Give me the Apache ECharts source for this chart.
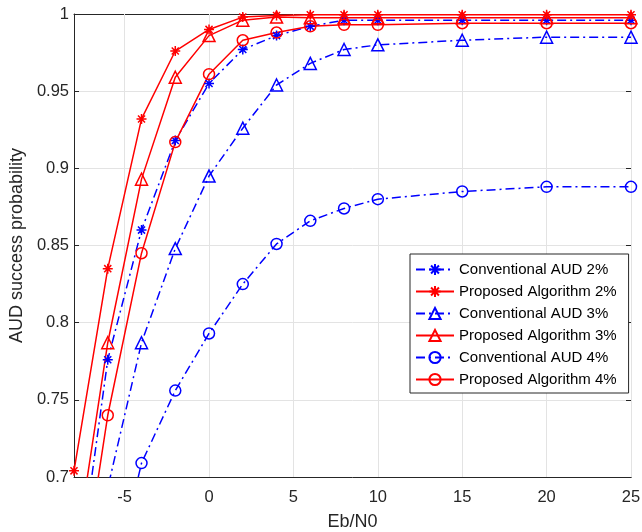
<!DOCTYPE html>
<html>
<head>
<meta charset="utf-8">
<script src="https://cdn.jsdelivr.net/npm/echarts@6/dist/echarts.min.js"></script>
<style>
  html, body { margin: 0; padding: 0; background: #fff; }
  #chart { width: 642px; height: 532px; }
</style>
</head>
<body>
<div id="chart"></div>
<script>
// Eb/N0 sample points (dB)
const ebn0 = [-8, -6, -4, -2, 0, 2, 4, 6, 8, 10, 15, 20, 25];

// AUD success probability per scheme and activity level
const conventional2 = [0.616, 0.776, 0.860, 0.918, 0.955, 0.977, 0.986, 0.992, 0.996, 0.996, 0.996, 0.996, 0.996];
const proposed2     = [0.704, 0.835, 0.932, 0.976, 0.990, 0.998, 0.999, 0.9995, 0.9995, 0.9995, 0.9995, 0.9995, 0.9995];
const conventional3 = [0.600, 0.693, 0.787, 0.848, 0.895, 0.926, 0.954, 0.968, 0.977, 0.980, 0.983, 0.985, 0.985];
const proposed3     = [0.643, 0.787, 0.893, 0.959, 0.986, 0.996, 0.998, 0.9975, 0.9975, 0.9975, 0.9975, 0.9975, 0.9975];
const conventional4 = [0.520, 0.615, 0.709, 0.756, 0.793, 0.825, 0.851, 0.866, 0.874, 0.880, 0.885, 0.888, 0.888];
const proposed4     = [0.597, 0.740, 0.845, 0.917, 0.961, 0.983, 0.988, 0.992, 0.993, 0.993, 0.994, 0.994, 0.994];

const seriesNames = [
  'Conventional AUD 2%', 'Proposed Algorithm 2%',
  'Conventional AUD 3%', 'Proposed Algorithm 3%',
  'Conventional AUD 4%', 'Proposed Algorithm 4%'
];

// Axis tick positions
const xTicks = [-5, 0, 5, 10, 15, 20, 25];
const xMin = -8, xMax = 25;
const yMin = 0.7, yMax = 1, yStep = 0.05;

const BLUE = '#0000ff';
const RED = '#ff0000';
const TEXT = '#262626';
const GRID = '#e3e3e3';
const FONT = '"Liberation Sans", Arial, Helvetica, sans-serif';

// Asterisk marker: plus sign overlaid with a cross, drawn as strokes
const STAR = 'path://M10 0L10 20M0 10L20 10M2.93 2.93L17.07 17.07M17.07 2.93L2.93 17.07';

function makeSeries(name, values, color, symbol, size, dashed) {
  return {
    name: name,
    type: 'line',
    data: ebn0.map((x, i) => [x, values[i]]),
    xAxisIndex: 0,
    yAxisIndex: 0,
    clip: true,
    z: 3,
    symbol: symbol,
    symbolSize: size,
    showAllSymbol: true,
    lineStyle: {
      color: color,
      width: 1.5,
      type: dashed ? [9, 4, 2, 4] : 'solid'
    },
    itemStyle: {
      color: 'rgba(0,0,0,0)',
      borderColor: color,
      borderWidth: 1.5
    },
    emphasis: { disabled: true },
    animation: false
  };
}

const series = [
  makeSeries(seriesNames[0], conventional2, BLUE, STAR, 10, true),
  makeSeries(seriesNames[1], proposed2, RED, STAR, 10, false),
  makeSeries(seriesNames[2], conventional3, BLUE, 'triangle', 12, true),
  makeSeries(seriesNames[3], proposed3, RED, 'triangle', 12, false),
  makeSeries(seriesNames[4], conventional4, BLUE, 'circle', 11, true),
  makeSeries(seriesNames[5], proposed4, RED, 'circle', 11, false)
];

// Vertical grid lines at the x tick positions
series.unshift({
  name: 'xgrid',
  type: 'line',
  data: [],
  z: 1,
  silent: true,
  markLine: {
    silent: true,
    z: 1,
    symbol: ['none', 'none'],
    label: { show: false },
    lineStyle: { color: GRID, width: 1, type: 'solid' },
    emphasis: { disabled: true },
    animation: false,
    data: xTicks.map(v => ({ xAxis: v }))
  }
});

const axisLine = { show: true, onZero: false, lineStyle: { color: TEXT, width: 1 } };
const tick = { show: true, inside: true, length: 5, lineStyle: { color: TEXT } };

const chart = echarts.init(document.getElementById('chart'), null, { renderer: 'canvas' });
chart.setOption({
  backgroundColor: '#ffffff',
  animation: false,
  textStyle: { fontFamily: FONT },
  grid: { left: 74, right: 11, top: 14, bottom: 55, containLabel: false, outerBoundsMode: 'none' },
  legend: {
    orient: 'vertical',
    left: 410,
    top: 254,
    z: 10,
    data: seriesNames,
    itemWidth: 38,
    itemHeight: 14,
    itemGap: 7,
    padding: [8, 12, 6, 5],
    backgroundColor: '#ffffff',
    borderColor: TEXT,
    borderWidth: 1,
    borderRadius: 0,
    textStyle: { color: '#000', fontSize: 15, fontFamily: FONT },
    selectedMode: false
  },
  xAxis: [
    {
      type: 'value',
      min: xMin,
      max: xMax,
      position: 'bottom',
      name: 'Eb/N0',
      nameLocation: 'middle',
      nameGap: 36,
      nameTextStyle: { color: TEXT, fontSize: 18, fontFamily: FONT },
      axisLine: axisLine,
      axisTick: Object.assign({ customValues: xTicks }, tick),
      axisLabel: { show: true, customValues: xTicks, margin: 12, color: TEXT, fontSize: 16.5, fontFamily: FONT },
      splitLine: { show: false }
    },
    {
      type: 'value',
      min: xMin,
      max: xMax,
      position: 'top',
      axisLine: axisLine,
      axisTick: Object.assign({ customValues: xTicks }, tick),
      axisLabel: { show: false },
      splitLine: { show: false }
    }
  ],
  yAxis: [
    {
      type: 'value',
      min: yMin,
      max: yMax,
      interval: yStep,
      position: 'left',
      name: 'AUD success probability',
      nameLocation: 'middle',
      nameGap: 46,
      nameTextStyle: { color: TEXT, fontSize: 18, fontFamily: FONT },
      axisLine: axisLine,
      axisTick: tick,
      axisLabel: { show: true, margin: 5, color: TEXT, fontSize: 16.5, fontFamily: FONT },
      splitLine: { show: true, lineStyle: { color: GRID, width: 1 } }
    },
    {
      type: 'value',
      min: yMin,
      max: yMax,
      interval: yStep,
      position: 'right',
      axisLine: axisLine,
      axisTick: tick,
      axisLabel: { show: false },
      splitLine: { show: false }
    }
  ],
  series: series
});
</script>
</body>
</html>
